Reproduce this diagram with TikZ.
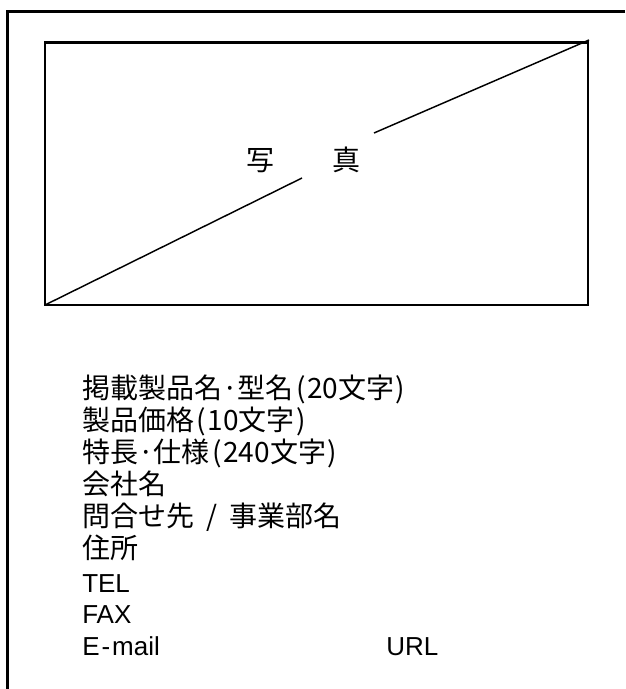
\documentclass[tikz,border=0pt]{standalone}
\usepackage{fontspec}
\setmainfont{Liberation Sans}
\newfontfamily\jp{Noto Sans CJK JP}
\usepackage{tikz}

\begin{document}
\begin{tikzpicture}[x=0.75pt,y=-0.75pt]
	\useasboundingbox (0,0) rectangle (625,689);
	\tikzset{item/.style={anchor=base west, inner sep=0pt, font=\fontsize{19.5}{24}\selectfont}}
	\tikzset{jitem/.style={item, font=\jp\fontsize{21}{24}\selectfont}}
	
	\draw[line width=2pt] (625,11.5) -- (7.5,11.5) -- (7.5,689);
	\draw[line width=2pt] (45,42.5) rectangle (588,305);
	\draw[line width=1.1pt] (45,305) -- (302,178);
	\draw[line width=1.1pt] (374,133) -- (589,40);
	\node[inner sep=0pt, font=\jp\fontsize{21}{24}\selectfont] (photo) at (303.5,160) {写\hspace{44pt}真};
	
	\node[jitem] (name) at (82,398) {掲載製品名·型名\kern2pt(\kern1pt20文字\kern1pt)};
	\node[jitem] (price) at (82,430) {製品価格\kern2pt(\kern1pt10文字\kern1pt)};
	\node[jitem] (spec) at (82,462) {特長·仕様\kern2pt(\kern1pt240文字\kern1pt)};
	\node[jitem] (company) at (82,494) {会社名};
	\node[jitem] (contact) at (82,526) {問合せ先\hspace{9pt}/\hspace{9pt}事業部名};
	\node[jitem] (address) at (82,558) {住所};
	\node[item] (tel) at (82,592) {TEL};
	\node[item] (fax) at (82,623) {FAX};
	\node[item] (mail) at (82,655) {E\kern1.5pt-\kern1.5pt mail};
	\node[item] (url) at (386,655) {URL};
\end{tikzpicture}
\end{document}
